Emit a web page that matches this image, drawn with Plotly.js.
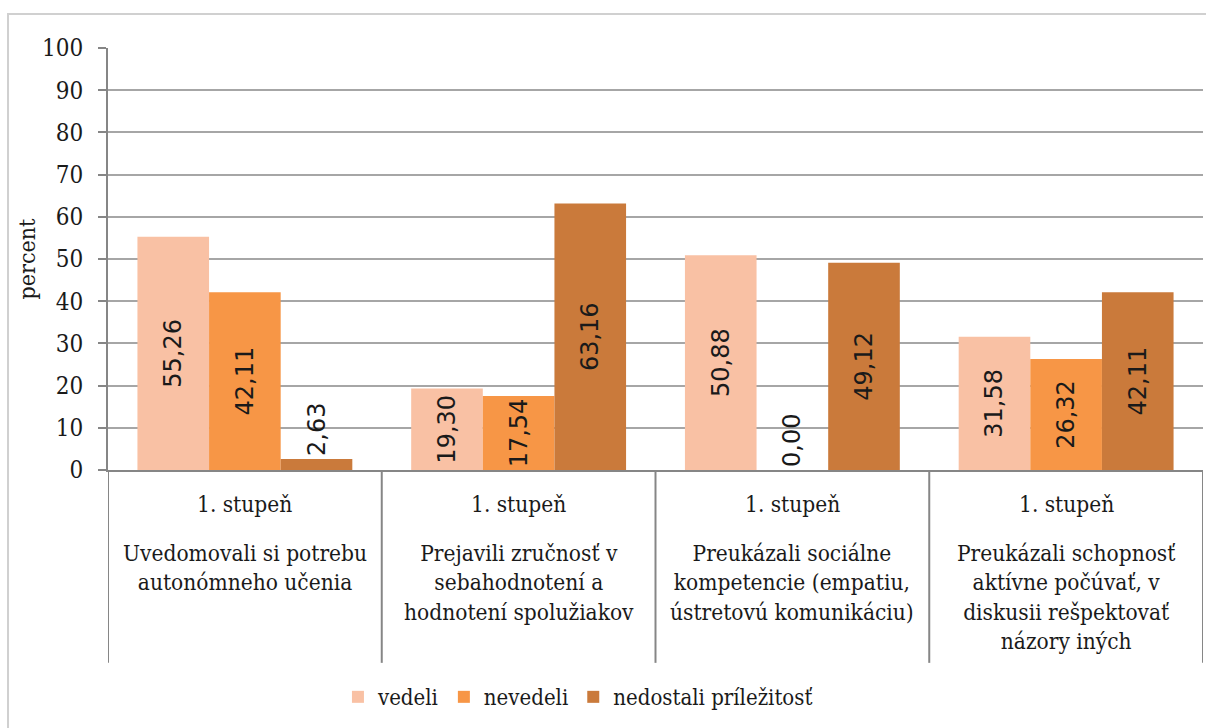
<!DOCTYPE html>
<html>
<head>
<meta charset="utf-8">
<script src="https://cdn.plot.ly/plotly-3.0.1.min.js"></script>
<style>
html,body{margin:0;padding:0;background:#fff;}
#chart{width:1206px;height:728px;}
</style>
</head>
<body>
<div id="chart"></div>
<script>
// ---- data ----
const categories = [
  "Uvedomovali si potrebu<br>autonómneho učenia",
  "Prejavili zručnosť v<br>sebahodnotení a<br>hodnotení spolužiakov",
  "Preukázali sociálne<br>kompetencie (empatiu,<br>ústretovú komunikáciu)",
  "Preukázali schopnosť<br>aktívne počúvať, v<br>diskusii rešpektovať<br>názory iných"
];
const groupLabel = "1. stupeň";
const seriesNames = ["vedeli", "nevedeli", "nedostali príležitosť"];
const vedeli = [55.26, 19.30, 50.88, 31.58];
const nevedeli = [42.11, 17.54, 0.00, 26.32];
const nedostali = [2.63, 63.16, 49.12, 42.11];
const yTicks = [0, 10, 20, 30, 40, 50, 60, 70, 80, 90, 100];
const yTitle = "percent";

const colors = ["#F9C1A4", "#F79646", "#CA7A3B"];
const serif = "DejaVu Serif Condensed, DejaVu Serif, serif";
const sans = "DejaVu Sans, sans-serif";
const textColor = "#1a1a1a";

const xIdx = categories.map((c, i) => i);
const fmt = v => v.toFixed(2).replace(".", ",");

function barTrace(name, vals, color) {
  return {
    type: "bar",
    name: name,
    x: xIdx,
    y: vals,
    marker: {color: color, line: {width: 0}},
    text: vals.map(fmt),
    textposition: vals.map(v => v < 8 ? "outside" : "inside"),
    insidetextanchor: "middle",
    textangle: -90,
    textfont: {family: sans, size: 24, color: textColor},
    insidetextfont: {family: sans, size: 24, color: textColor},
    outsidetextfont: {family: sans, size: 24, color: textColor},
    cliponaxis: false,
    hoverinfo: "skip"
  };
}

const data = [
  barTrace(seriesNames[0], vedeli, colors[0]),
  barTrace(seriesNames[1], nevedeli, colors[1]),
  barTrace(seriesNames[2], nedostali, colors[2])
];

const shapes = [];
// outer chart border (top & left visible)
shapes.push({type: "rect", xref: "paper", yref: "paper",
  x0: -0.0913, x1: 1.02, y0: -0.75, y1: 1.0806,
  line: {color: "#d0d0d0", width: 2}, fillcolor: "rgba(0,0,0,0)", layer: "below"});
// category divider lines below x axis
for (let i = 0; i <= categories.length; i++) {
  shapes.push({type: "line", xref: "x", yref: "paper",
    x0: i - 0.5, x1: i - 0.5, y0: 0, y1: -0.457,
    line: {color: "#868686", width: 2}});
}

const annotations = [];
categories.forEach((c, i) => {
  annotations.push({xref: "x", yref: "paper", x: i, y: 0, yanchor: "top",
    yshift: -19, text: groupLabel, showarrow: false,
    font: {family: serif, size: 22.5, color: textColor}});
  annotations.push({xref: "x", yref: "paper", x: i, y: 0, yanchor: "top",
    yshift: -68, text: c, showarrow: false, align: "center",
    font: {family: serif, size: 22.5, color: textColor}});
});

const layout = {
  width: 1206, height: 728,
  margin: {l: 108, r: 3, t: 48, b: 258},
  paper_bgcolor: "#ffffff",
  plot_bgcolor: "#ffffff",
  barmode: "group",
  bargap: 0.215,
  bargroupgap: 0,
  showlegend: true,
  legend: {orientation: "h", x: 0.21, xanchor: "left", y: -0.538, yanchor: "middle",
    font: {family: serif, size: 22, color: textColor}, bgcolor: "rgba(0,0,0,0)"},
  uniformtext: {mode: "show", minsize: 24},
  xaxis: {
    range: [-0.5, categories.length - 0.5],
    showticklabels: false, ticks: "",
    showgrid: false, zeroline: false,
    showline: true, linecolor: "#868686", linewidth: 2,
    fixedrange: true
  },
  yaxis: {
    range: [0, 100],
    tickvals: yTicks,
    ticktext: yTicks.map(String),
    ticks: "outside", ticklen: 8, tickcolor: "#868686", tickwidth: 2,
    ticklabelstandoff: 10,
    showline: true, linecolor: "#868686", linewidth: 2,
    showgrid: true, gridcolor: "#a6a6a6", gridwidth: 2,
    zeroline: false,
    tickfont: {family: serif, size: 24, color: textColor},
    title: {text: yTitle, standoff: 0, font: {family: serif, size: 23, color: textColor}},
    automargin: false,
    fixedrange: true
  },
  shapes: shapes,
  annotations: annotations
};

Plotly.newPlot("chart", data, layout, {displayModeBar: false, staticPlot: true});
</script>
</body>
</html>
